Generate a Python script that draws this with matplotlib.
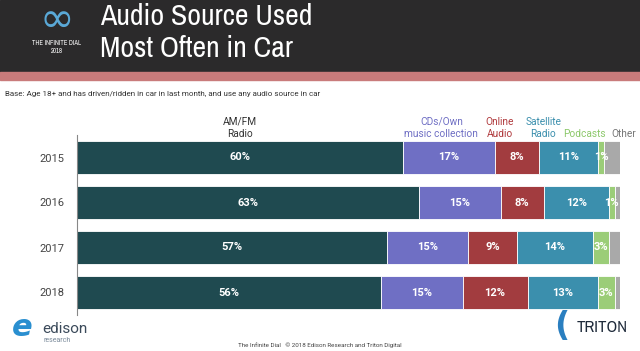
import matplotlib
matplotlib.use("Agg")
import matplotlib.pyplot as plt
import numpy as np
from matplotlib.patches import Rectangle

# data
years = ["2015", "2016", "2017", "2018"]
sources = ["AM/FM\nRadio", "CDs/Own\nmusic collection", "Online\nAudio", "Satellite\nRadio", "Podcasts", "Other"]
amfm = [60, 63, 57, 56]
cds = [17, 15, 15, 15]
online = [8, 8, 9, 12]
satellite = [11, 12, 14, 13]
podcasts = [1, 1, 3, 3]
other = [3, 1, 2, 1]

COLORS = ["#1f4a50", "#6f6fc4", "#a23c3f", "#3b8fad", "#9bcd78", "#a9a9a9"]
LABEL_COLORS = ["#333333", "#6f6fc4", "#b03a3d", "#3b8fad", "#8cc86a", "#777777"]
TITLE_FONT = ["Archivo Narrow", "Liberation Sans Narrow", "DejaVu Sans"]
BODY_FONT = ["Roboto", "DejaVu Sans"]

fig = plt.figure(figsize=(6.4, 3.51), dpi=100)
W, H = 640, 351

def fy(px):
    return 1 - px / H

# header band and stripe
fig.patches.append(Rectangle((0, fy(72)), 1, 72 / H, transform=fig.transFigure,
                             color="#2b2a2b", zorder=0))
fig.patches.append(Rectangle((0, fy(80)), 1, 8 / H, transform=fig.transFigure,
                             color="#c97b7b", zorder=0))
fig.text(100 / W, fy(25), "Audio Source Used", color="white", fontsize=21.5,
         family=TITLE_FONT, fontweight="semibold", va="baseline", ha="left")
fig.text(100 / W, fy(57), "Most Often in Car", color="white", fontsize=21.5,
         family=TITLE_FONT, fontweight="semibold", va="baseline", ha="left")
# infinite dial logo
fig.text(57 / W, fy(20), "\u221e", color="#5aa8d6", fontsize=30, ha="center", va="center")
fig.text(57 / W, fy(43), "THE INFINITE DIAL", color="white", fontsize=4.8,
         ha="center", va="center", family=TITLE_FONT)
fig.text(57 / W, fy(51), "2018", color="white", fontsize=4.8, ha="center", va="center",
         family=TITLE_FONT)

fig.text(5 / W, fy(94),
         "Base: Age 18+ and has driven/ridden in car in last month, and use any audio source in car",
         fontsize=5.8, color="#333333", va="center", ha="left", family=BODY_FONT)

ax = fig.add_axes([77 / W, fy(315), 543 / W, 180 / H])
series = [amfm, cds, online, satellite, podcasts, other]
y = np.arange(len(years))
left = np.zeros(len(years))
for i, vals in enumerate(series):
    vals = np.array(vals, dtype=float)
    ax.barh(y, vals, left=left, height=0.72, color=COLORS[i], edgecolor="white", linewidth=0.6)
    if i < 5:
        for j, v in enumerate(vals):
            ax.text(left[j] + v / 2, y[j], f"{int(v)}%", color="white", fontsize=8,
                    fontweight="bold", ha="center", va="center", family=BODY_FONT)
    left += vals

ax.set_xlim(0, 100)
ax.set_ylim(3.5, -0.5)
ax.set_yticks(y)
ax.set_yticklabels(years, fontsize=8, color="#444444", family=BODY_FONT)
ax.tick_params(axis="y", length=0, pad=9)
ax.set_xticks([])
for s in ["top", "right", "bottom"]:
    ax.spines[s].set_visible(False)
ax.spines["left"].set_color("#888888")
ax.spines["left"].set_linewidth(0.8)
ax.patch.set_alpha(0)

# category labels above the first bar
label_x = [30, 67.1, 77.9, 85.9, 93.4, 100.6]
for i, name in enumerate(sources):
    ax.text(label_x[i], -0.42, name, color=LABEL_COLORS[i], fontsize=7.3,
            ha="center", va="bottom", linespacing=1.25, clip_on=False, family=BODY_FONT)

# footer
fig.text(0.5, fy(345), "The Infinite Dial   \u00a9 2018 Edison Research and Triton Digital",
         fontsize=4.5, color="#444444", ha="center", va="center", family=BODY_FONT)
fig.text(12 / W, fy(327), "e", color="#2a8fd0", fontsize=22, fontweight="bold",
         ha="left", va="center", style="italic")
fig.text(42 / W, fy(329), "edison", color="#3b4a5a", fontsize=11, ha="left", va="center",
         family=BODY_FONT)
fig.text(43 / W, fy(341), "research", color="#7a8a9a", fontsize=5, ha="left", va="center",
         family=BODY_FONT)
fig.text(562 / W, fy(327), "(", color="#2a7fc0", fontsize=24, fontweight="bold",
         ha="center", va="center")
fig.text(628 / W, fy(328), "TRITON", color="#1e2a3a", fontsize=12, fontweight="bold",
         ha="right", va="center", family=TITLE_FONT)

fig.savefig("out.png", dpi=100)
